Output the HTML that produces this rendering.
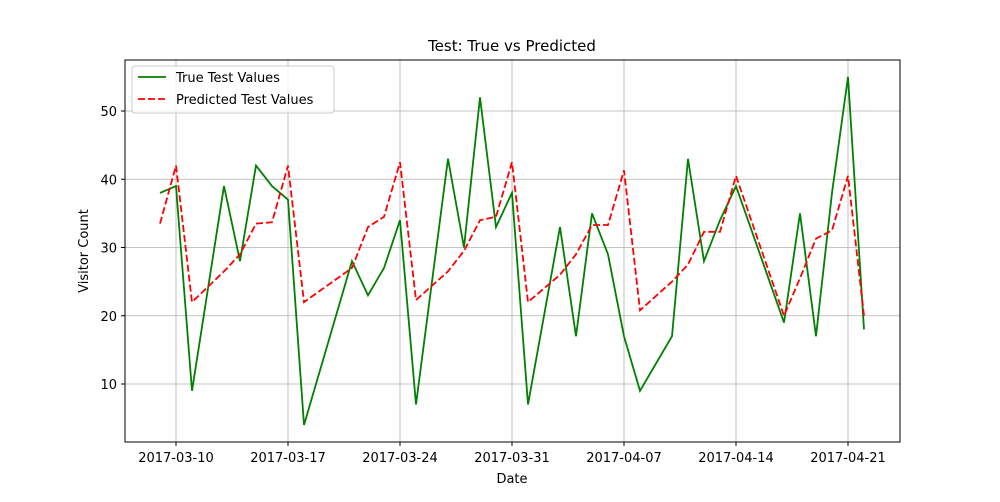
<!DOCTYPE html>
<html><head><meta charset="utf-8"><style>
body{margin:0;background:#fff;font-family:"Liberation Sans","DejaVu Sans",sans-serif}
svg text{font-family:"DejaVu Sans","Liberation Sans",sans-serif;fill:#000}
</style></head><body>
<svg id="c" width="1000" height="497"></svg>
<script>
const dates=["2017-03-09","2017-03-10","2017-03-11","2017-03-13","2017-03-14","2017-03-15","2017-03-16","2017-03-17","2017-03-18","2017-03-21","2017-03-22","2017-03-23","2017-03-24","2017-03-25","2017-03-27","2017-03-28","2017-03-29","2017-03-30","2017-03-31","2017-04-01","2017-04-03","2017-04-04","2017-04-05","2017-04-06","2017-04-07","2017-04-08","2017-04-10","2017-04-11","2017-04-12","2017-04-13","2017-04-14","2017-04-17","2017-04-18","2017-04-19","2017-04-20","2017-04-21","2017-04-22"];
const trueVals=[38,39,9,39,28,42,39,37,4,28,23,27,34,7,43,30,52,33,38,7,33,17,35,29,17,9,17,43,28,34,39,19,35,17,38,55,18];
const predVals=[33.5,42,22,26.5,29,33.5,33.7,42,22,27,33,34.5,42.5,22.3,26.5,29.5,34,34.5,42.5,22,26,29,33.3,33.3,41.3,20.8,25,27.5,32.3,32.3,40.5,20,25.5,31.3,32.5,40.5,20];
const xTicks=["2017-03-10","2017-03-17","2017-03-24","2017-03-31","2017-04-07","2017-04-14","2017-04-21"];
const yTicks=[10,20,30,40,50];
const NS="http://www.w3.org/2000/svg",svg=document.getElementById('c');
const L=125,R=900,T=60,B=442;
const d0=Date.parse("2017-03-10");
function x(d){return 176+(Date.parse(d)-d0)/864e5*16;}
function y(v){return 452.25-v*6.825;}
function mk(t,a,p){const e=document.createElementNS(NS,t);for(const k in a)e.setAttribute(k,a[k]);(p||svg).appendChild(e);return e;}
const grid=mk('g',{});
xTicks.forEach(t=>{const X=x(t);mk('line',{x1:X,x2:X,y1:T,y2:B,stroke:'#b0b0b0','stroke-width':0.8},grid);
mk('line',{x1:X,x2:X,y1:B,y2:B+4,stroke:'#000'});
const tx=mk('text',{x:X,y:B+20,'text-anchor':'middle','font-size':13});tx.textContent=t;});
yTicks.forEach(v=>{const Y=y(v);mk('line',{x1:L,x2:R,y1:Y,y2:Y,stroke:'#b0b0b0','stroke-width':0.8},grid);
mk('line',{x1:L-4,x2:L,y1:Y,y2:Y,stroke:'#000'});
const tx=mk('text',{x:L-8,y:Y+5,'text-anchor':'end','font-size':13});tx.textContent=v;});
const tl=mk('polyline',{points:dates.map((d,i)=>x(d)+','+y(trueVals[i])).join(' '),fill:'none',stroke:'#008000','stroke-width':1.8});

const pl=mk('polyline',{points:dates.map((d,i)=>x(d)+','+y(predVals[i])).join(' '),fill:'none',stroke:'#ff0000','stroke-width':1.8,'stroke-dasharray':'7,3'});

const fr=mk('rect',{x:L,y:T,width:R-L,height:B-T,fill:'none',stroke:'#000','stroke-width':1});

const ti=mk('text',{x:512,y:51,'text-anchor':'middle','font-size':15});ti.textContent='Test: True vs Predicted';

const xl=mk('text',{x:512,y:483,'text-anchor':'middle','font-size':13});xl.textContent='Date';

const yl=mk('text',{x:88,y:251,'text-anchor':'middle','font-size':13,transform:'rotate(-90 88 251)'});yl.textContent='Visitor Count';

const lg=mk('g',{});
mk('rect',{x:132,y:66,width:202,height:47,rx:3,fill:'#fff','fill-opacity':0.8,stroke:'#ccc'},lg);
mk('line',{x1:138,x2:166,y1:77,y2:77,stroke:'#008000','stroke-width':1.8},lg);
mk('line',{x1:138,x2:166,y1:99,y2:99,stroke:'#ff0000','stroke-width':1.8,'stroke-dasharray':'7,3'},lg);
const e1=mk('text',{x:176,y:82,'font-size':13},lg);e1.textContent='True Test Values';
const e2=mk('text',{x:176,y:104,'font-size':13},lg);e2.textContent='Predicted Test Values';
</script>
</body></html>
